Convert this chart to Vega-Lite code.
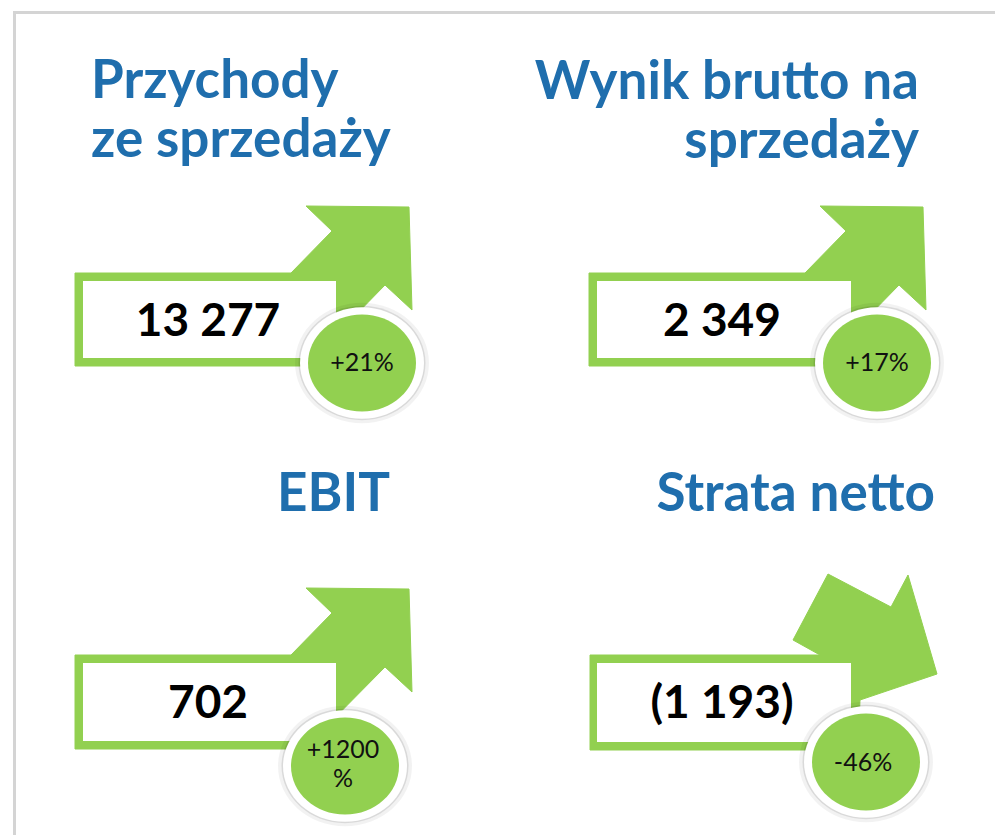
{
  "$schema": "https://vega.github.io/schema/vega-lite/v6.json",
  "width": 995,
  "height": 835,
  "padding": 0,
  "autosize": {"type": "none"},
  "background": "white",
  "config": {"view": {"stroke": null}},
  "projection": {"type": "identity", "scale": 1, "translate": [0, 0]},
  "datasets": {
    "kpis": [
      {"kpi": "Przychody ze sprzedaży", "title": ["Przychody", "ze sprzedaży"], "tx": 91, "ty": 98, "value": "13 277", "vx": 208, "vy": 336, "change": ["+21%"], "cx": 362, "cy": 363, "px": 362, "py": 371},
      {"kpi": "Wynik brutto na sprzedaży", "title": ["Wynik brutto na", "sprzedaży"], "tx": 919, "ty": 99, "value": "2 349", "vx": 722, "vy": 336, "change": ["+17%"], "cx": 877, "cy": 363, "px": 877, "py": 371},
      {"kpi": "EBIT", "title": ["EBIT"], "tx": 390, "ty": 511, "value": "702", "vx": 208, "vy": 718, "change": ["+1200", "%"], "cx": 345, "cy": 766, "px": 343, "py": 758},
      {"kpi": "Strata netto", "title": ["Strata netto"], "tx": 935, "ty": 511, "value": "(1 193)", "vx": 722, "vy": 718, "change": ["-46%"], "cx": 866, "cy": 762, "px": 863, "py": 771}
    ],
    "shapes": [
      {"type": "Feature", "properties": {"part": "frame"}, "geometry": {"type": "LineString", "coordinates": [[14.5, 835], [14.5, 12.5], [995, 12.5]]}},
      {"type": "Feature", "properties": {"part": "arrow", "kpi": "Przychody ze sprzedaży"}, "geometry": {"type": "Polygon", "coordinates": [[[75, 273], [291, 273], [332, 231], [306, 206], [409, 207], [412, 310], [385, 285], [306, 366], [75, 366], [75, 273]]]}},
      {"type": "Feature", "properties": {"part": "arrow", "kpi": "Wynik brutto na sprzedaży"}, "geometry": {"type": "Polygon", "coordinates": [[[589, 273], [805, 273], [846, 231], [820, 206], [923, 207], [926, 310], [899, 285], [820, 366], [589, 366], [589, 273]]]}},
      {"type": "Feature", "properties": {"part": "arrow", "kpi": "EBIT"}, "geometry": {"type": "Polygon", "coordinates": [[[75, 655], [291, 655], [332, 613], [306, 588], [409, 589], [412, 692], [385, 667], [304, 749], [75, 749], [75, 655]]]}},
      {"type": "Feature", "properties": {"part": "arrow", "kpi": "Strata netto"}, "geometry": {"type": "Polygon", "coordinates": [[[590, 655], [820, 655], [793, 640], [828, 574], [891, 607], [908, 575], [937, 674], [860, 700], [858, 750], [590, 750], [590, 655]]]}},
      {"type": "Feature", "properties": {"part": "box", "kpi": "Przychody ze sprzedaży"}, "geometry": {"type": "Polygon", "coordinates": [[[83, 281], [336, 281], [336, 358], [83, 358], [83, 281]]]}},
      {"type": "Feature", "properties": {"part": "box", "kpi": "Wynik brutto na sprzedaży"}, "geometry": {"type": "Polygon", "coordinates": [[[597, 281], [851, 281], [851, 358], [597, 358], [597, 281]]]}},
      {"type": "Feature", "properties": {"part": "box", "kpi": "EBIT"}, "geometry": {"type": "Polygon", "coordinates": [[[83, 663], [336, 663], [336, 741], [83, 741], [83, 663]]]}},
      {"type": "Feature", "properties": {"part": "box", "kpi": "Strata netto"}, "geometry": {"type": "Polygon", "coordinates": [[[597, 663], [851, 663], [851, 742], [597, 742], [597, 663]]]}}
    ]
  },
  "layer": [
    {
      "data": {"name": "shapes"},
      "transform": [{"filter": "datum.properties.part === 'frame'"}],
      "mark": {"type": "geoshape", "filled": false, "stroke": "#d4d4d4", "strokeWidth": 3}
    },
    {
      "data": {"name": "shapes"},
      "transform": [{"filter": "datum.properties.part === 'arrow'"}],
      "mark": {"type": "geoshape", "fill": "#92d050", "stroke": "#92d050", "strokeWidth": 1, "strokeJoin": "round"}
    },
    {
      "data": {"name": "shapes"},
      "transform": [{"filter": "datum.properties.part === 'box'"}],
      "mark": {"type": "geoshape", "fill": "#ffffff", "strokeWidth": 0}
    },
    {
      "data": {"name": "kpis"},
      "mark": {"type": "point", "filled": true, "shape": "M-1,0A1,0.9,0,1,1,1,0A1,0.9,0,1,1,-1,0Z", "size": 17956, "fill": "#000000", "opacity": 0.05, "strokeWidth": 0, "xOffset": 2, "yOffset": 5},
      "encoding": {"longitude": {"field": "cx", "type": "quantitative"}, "latitude": {"field": "cy", "type": "quantitative"}}
    },
    {
      "data": {"name": "kpis"},
      "mark": {"type": "point", "filled": true, "shape": "M-1,0A1,0.9,0,1,1,1,0A1,0.9,0,1,1,-1,0Z", "size": 16129, "fill": "#000000", "opacity": 0.1, "strokeWidth": 0, "xOffset": 2, "yOffset": 3},
      "encoding": {"longitude": {"field": "cx", "type": "quantitative"}, "latitude": {"field": "cy", "type": "quantitative"}}
    },
    {
      "data": {"name": "kpis"},
      "mark": {"type": "point", "filled": true, "shape": "M-1,0A1,0.9,0,1,1,1,0A1,0.9,0,1,1,-1,0Z", "size": 15376, "fill": "#ffffff", "opacity": 1, "strokeWidth": 0},
      "encoding": {"longitude": {"field": "cx", "type": "quantitative"}, "latitude": {"field": "cy", "type": "quantitative"}}
    },
    {
      "data": {"name": "kpis"},
      "mark": {"type": "point", "filled": true, "shape": "M-1,0A1,0.9,0,1,1,1,0A1,0.9,0,1,1,-1,0Z", "size": 11664, "fill": "#92d050", "opacity": 1, "strokeWidth": 0},
      "encoding": {"longitude": {"field": "cx", "type": "quantitative"}, "latitude": {"field": "cy", "type": "quantitative"}}
    },
    {
      "data": {"name": "kpis"},
      "transform": [{"filter": "datum.kpi === 'Przychody ze sprzedaży'"}],
      "mark": {"type": "text", "align": "left", "baseline": "alphabetic", "font": "Lato", "fontWeight": "bold", "fontSize": 53, "lineHeight": 59, "fill": "#1f6ead"},
      "encoding": {"longitude": {"field": "tx", "type": "quantitative"}, "latitude": {"field": "ty", "type": "quantitative"}, "text": {"field": "title", "type": "nominal"}}
    },
    {
      "data": {"name": "kpis"},
      "transform": [{"filter": "datum.kpi !== 'Przychody ze sprzedaży'"}],
      "mark": {"type": "text", "align": "right", "baseline": "alphabetic", "font": "Lato", "fontWeight": "bold", "fontSize": 53, "lineHeight": 59, "fill": "#1f6ead"},
      "encoding": {"longitude": {"field": "tx", "type": "quantitative"}, "latitude": {"field": "ty", "type": "quantitative"}, "text": {"field": "title", "type": "nominal"}}
    },
    {
      "data": {"name": "kpis"},
      "mark": {"type": "text", "align": "center", "baseline": "alphabetic", "font": "Lato", "fontWeight": "bold", "fontSize": 46, "fill": "#000000"},
      "encoding": {"longitude": {"field": "vx", "type": "quantitative"}, "latitude": {"field": "vy", "type": "quantitative"}, "text": {"field": "value", "type": "nominal"}}
    },
    {
      "data": {"name": "kpis"},
      "mark": {"type": "text", "align": "center", "baseline": "alphabetic", "font": "Lato", "fontWeight": "normal", "fontSize": 25, "lineHeight": 29, "fill": "#111111"},
      "encoding": {"longitude": {"field": "px", "type": "quantitative"}, "latitude": {"field": "py", "type": "quantitative"}, "text": {"field": "change", "type": "nominal"}}
    }
  ]
}
